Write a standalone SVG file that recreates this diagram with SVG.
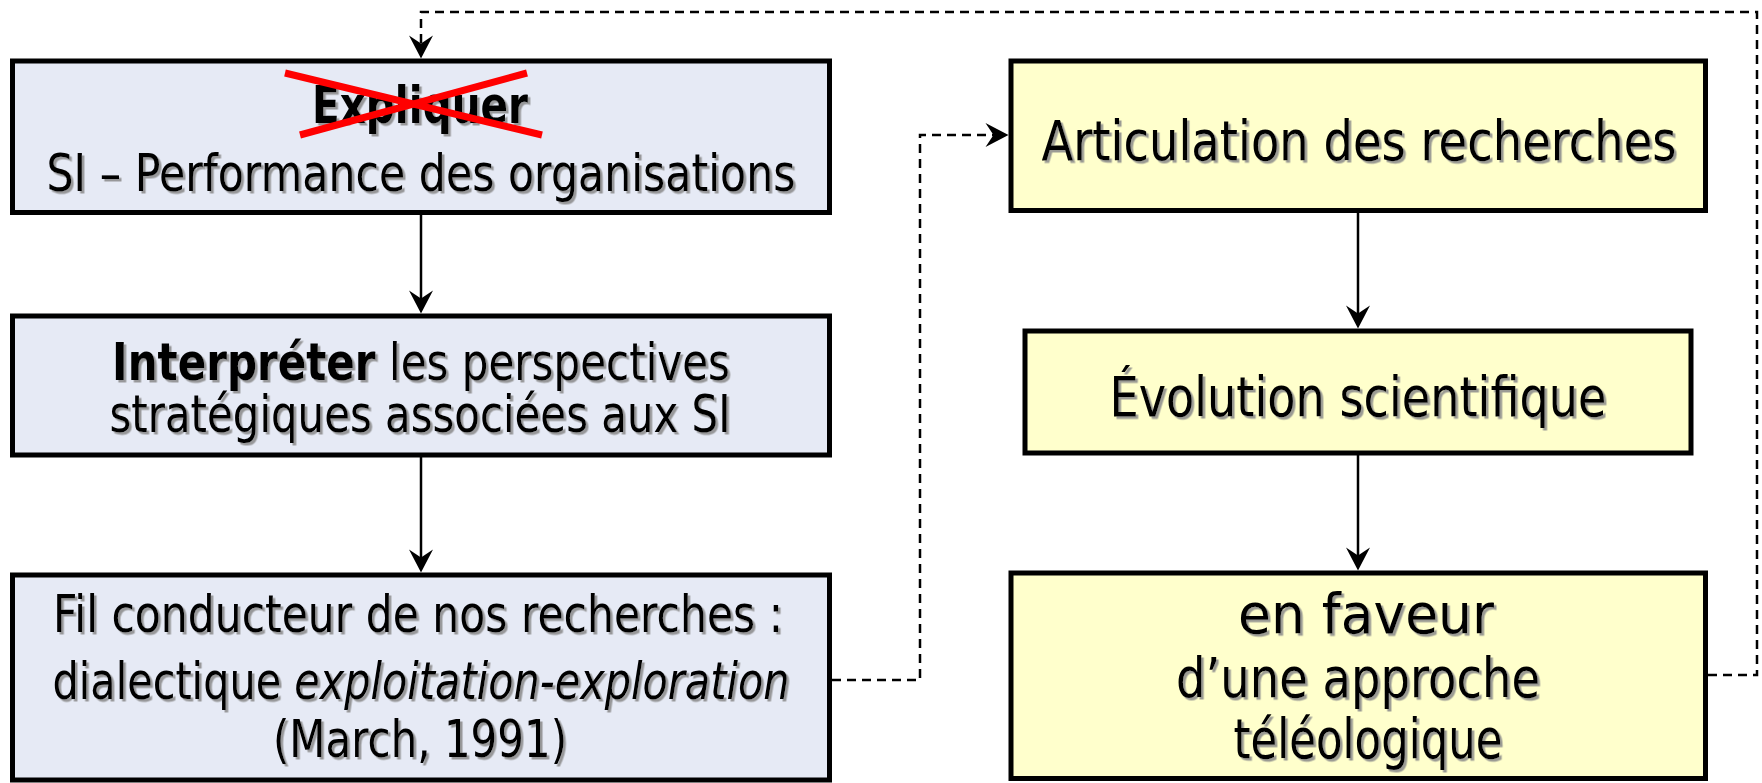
<svg xmlns="http://www.w3.org/2000/svg" width="1762" height="783" viewBox="0 0 1762 783">
<style>
.boxL{fill:#e6eaf5;stroke:#000;stroke-width:5}
.boxR{fill:#ffffcc;stroke:#000;stroke-width:5}
.t{font-family:"DejaVu Sans","Liberation Sans",sans-serif;fill:#000;text-anchor:middle;filter:url(#sh)}
.sm{font-size:51px}
.md{font-size:52px}
.lg{font-size:55px}
.solid{fill:none;stroke:#000;stroke-width:2.5}
.dash{fill:none;stroke:#000;stroke-width:2.5;stroke-dasharray:9 6}
.cross{stroke:#ff0000;stroke-width:7;stroke-linecap:butt}
</style>
<defs>
<filter id="sh" x="-5%" y="-20%" width="110%" height="140%">
<feDropShadow dx="2.5" dy="2.5" stdDeviation="0.6" flood-color="#8a8a8a" flood-opacity="0.85"/>
</filter>
<marker id="ah" viewBox="-24 -13 36 26" refX="-10" refY="0" markerWidth="36" markerHeight="26" markerUnits="userSpaceOnUse" orient="auto">
<path d="M0,0 L-23,-12 L-15,0 L-23,12 Z" fill="#000"/>
</marker>
</defs>

<g id="n1">
<rect class="boxL" x="12.5" y="61" width="817" height="151.5"/>
<text class="t sm" x="420" y="123" font-weight="bold" textLength="216" lengthAdjust="spacingAndGlyphs">Expliquer</text>
<line class="cross" x1="285" y1="73" x2="542" y2="135"/>
<line class="cross" x1="300" y1="135" x2="527" y2="73"/>
<text class="t sm" x="421" y="191" textLength="749" lengthAdjust="spacingAndGlyphs">SI – Performance des organisations</text>
</g>

<g id="n2">
<rect class="boxL" x="12.5" y="316" width="817" height="139"/>
<text class="t sm" x="421" y="380" textLength="618" lengthAdjust="spacingAndGlyphs"><tspan font-weight="bold">Interpréter</tspan> les perspectives</text>
<text class="t sm" x="420" y="432" textLength="621" lengthAdjust="spacingAndGlyphs">stratégiques associées aux SI</text>
</g>

<g id="n3">
<rect class="boxL" x="12.5" y="575" width="817" height="205"/>
<text class="t md" x="418" y="632" textLength="730" lengthAdjust="spacingAndGlyphs">Fil conducteur de nos recherches :</text>
<text class="t md" x="421" y="699" textLength="737" lengthAdjust="spacingAndGlyphs">dialectique <tspan font-style="italic">exploitation-exploration</tspan></text>
<text class="t md" x="420" y="757" textLength="294" lengthAdjust="spacingAndGlyphs">(March, 1991)</text>
</g>

<g id="n4">
<rect class="boxR" x="1011" y="61" width="694.5" height="149.5"/>
<text class="t lg" x="1359" y="160" textLength="635" lengthAdjust="spacingAndGlyphs">Articulation des recherches</text>
</g>

<g id="n5">
<rect class="boxR" x="1025" y="331" width="666" height="122"/>
<text class="t lg" x="1358" y="416" textLength="497" lengthAdjust="spacingAndGlyphs">Évolution scientifique</text>
</g>

<g id="n6">
<rect class="boxR" x="1011" y="573" width="694.5" height="205.5"/>
<text class="t lg" x="1366" y="633" textLength="256" lengthAdjust="spacingAndGlyphs">en faveur</text>
<text class="t lg" x="1358" y="697" textLength="364" lengthAdjust="spacingAndGlyphs">d’une approche</text>
<text class="t lg" x="1368" y="758" textLength="269" lengthAdjust="spacingAndGlyphs">téléologique</text>
</g>

<g id="connectors">
<path class="solid" d="M421,212.5 V303.5" marker-end="url(#ah)"/>
<path class="solid" d="M421,455 V562.5" marker-end="url(#ah)"/>
<path class="solid" d="M1358,210.5 V318.5" marker-end="url(#ah)"/>
<path class="solid" d="M1358,453 V560.5" marker-end="url(#ah)"/>
<path class="dash" d="M832,680 H920 V135 H998.5" marker-end="url(#ah)"/>
<path class="dash" d="M1708,675 H1757 V12 H421 V48.5" marker-end="url(#ah)"/>
</g>
</svg>
